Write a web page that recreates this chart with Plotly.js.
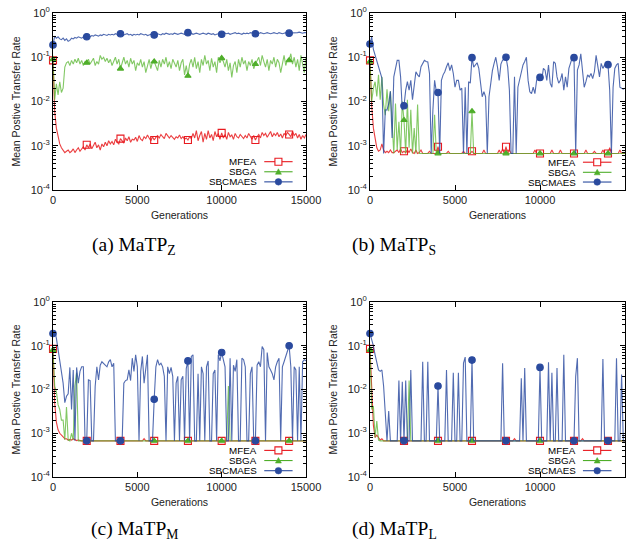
<!DOCTYPE html>
<html><head><meta charset="utf-8">
<script src="https://cdn.plot.ly/plotly-3.0.1.min.js"></script>
<style>body{margin:0;background:#fff}#c{width:640px;height:546px}</style>
</head><body><div id="c"></div>
<script>
const generations = [0,100,200,300,400,500,600,700,800,900,1000,1100,1200,1300,1400,1500,1600,1700,1800,1900,2000,2100,2200,2300,2400,2500,2600,2700,2800,2900,3000,3100,3200,3300,3400,3500,3600,3700,3800,3900,4000,4100,4200,4300,4400,4500,4600,4700,4800,4900,5000,5100,5200,5300,5400,5500,5600,5700,5800,5900,6000,6100,6200,6300,6400,6500,6600,6700,6800,6900,7000,7100,7200,7300,7400,7500,7600,7700,7800,7900,8000,8100,8200,8300,8400,8500,8600,8700,8800,8900,9000,9100,9200,9300,9400,9500,9600,9700,9800,9900,10000,10100,10200,10300,10400,10500,10600,10700,10800,10900,11000,11100,11200,11300,11400,11500,11600,11700,11800,11900,12000,12100,12200,12300,12400,12500,12600,12700,12800,12900,13000,13100,13200,13300,13400,13500,13600,13700,13800,13900,14000,14100,14200,14300,14400,14500,14600,14700,14800,14900,15000];
const markerGenerations = [0,2000,4000,6000,8000,10000,12000,14000];
const seriesNames = ['MFEA','SBGA','SBCMAES'];
const captions = ['(a) MaTP<sub>Z</sub>','(b) MaTP<sub>S</sub>','(c) MaTP<sub>M</sub>','(d) MaTP<sub>L</sub>'];
const xTickVals = [0,5000,10000,15000];
const xTickText = ['0','5000','10000','15000'];
const yTickVals = [1,0.1,0.01,0.001,0.0001];
const yTickText = ['10<sup>0</sup>','10<sup>-1</sup>','10<sup>-2</sup>','10<sup>-3</sup>','10<sup>-4</sup>'];

// Panel (a) MaTP_Z
const mfeaZ = [0.085,0.006,0.0025,0.0015,0.0011,9e-4,8e-4,7e-4,7.5e-4,8e-4,
7e-4,7.5e-4,8.5e-4,7e-4,8e-4,9e-4,7.5e-4,8.5e-4,9.5e-4,8e-4,
1.05e-3,9e-4,1.1e-3,8.5e-4,1e-3,1.2e-3,9e-4,1.05e-3,8e-4,1.1e-3,
9.5e-4,1.2e-3,1e-3,1.3e-3,1.1e-3,1.25e-3,1.05e-3,1.4e-3,1.2e-3,1.1e-3,
1.45e-3,1.3e-3,1.15e-3,1.5e-3,1.3e-3,1.6e-3,1.2e-3,1.4e-3,1.35e-3,1.55e-3,
1.25e-3,1.7e-3,1.4e-3,1.3e-3,1.6e-3,1.45e-3,1.75e-3,1.5e-3,1.3e-3,1.6e-3,
1.35e-3,1.55e-3,1.7e-3,1.5e-3,1.8e-3,1.6e-3,1.45e-3,1.9e-3,1.65e-3,1.5e-3,
1.7e-3,1.55e-3,1.4e-3,1.6e-3,1.5e-3,1.75e-3,1.45e-3,1.6e-3,1.4e-3,1.5e-3,
1.35e-3,1.6e-3,1.45e-3,1.9e-3,1.5e-3,2.2e-3,1.3e-3,1.7e-3,2.1e-3,1.2e-3,
1.9e-3,1.4e-3,2.2e-3,1.5e-3,1.8e-3,1.3e-3,2.1e-3,1.6e-3,1.9e-3,1.4e-3,
1.95e-3,1.5e-3,1.8e-3,1.4e-3,2e-3,1.6e-3,1.75e-3,1.4e-3,1.9e-3,1.6e-3,
1.5e-3,1.8e-3,1.6e-3,1.45e-3,1.7e-3,1.5e-3,1.9e-3,1.6e-3,1.4e-3,1.7e-3,
1.35e-3,1.6e-3,1.8e-3,1.5e-3,2e-3,1.7e-3,1.9e-3,1.55e-3,1.8e-3,2.1e-3,
1.6e-3,1.9e-3,1.7e-3,2e-3,1.6e-3,1.85e-3,1.5e-3,1.9e-3,1.7e-3,2e-3,
1.8e-3,1.6e-3,2.1e-3,1.7e-3,1.9e-3,1.5e-3,1.8e-3,1.4e-3,1.7e-3,1.5e-3,
1.8e-3];
const sbgaZ = [0.09,0.011,0.025,0.014,0.028,0.016,0.02,0.06,0.075,0.08,
0.065,0.085,0.07,0.09,0.075,0.095,0.07,0.085,0.065,0.08,
0.075,0.09,0.07,0.085,0.095,0.065,0.08,0.07,0.11,0.09,
0.1,0.08,0.095,0.075,0.09,0.065,0.085,0.1,0.07,0.09,
0.055,0.08,0.1,0.07,0.085,0.06,0.095,0.07,0.085,0.05,
0.075,0.065,0.09,0.06,0.08,0.045,0.07,0.09,0.055,0.08,
0.08,0.065,0.05,0.085,0.06,0.09,0.07,0.1,0.06,0.08,
0.055,0.09,0.07,0.06,0.085,0.05,0.075,0.09,0.04,0.065,
0.038,0.07,0.09,0.06,0.1,0.055,0.08,0.045,0.09,0.065,
0.11,0.07,0.085,0.05,0.095,0.06,0.08,0.045,0.1,0.075,
0.095,0.08,0.06,0.09,0.05,0.075,0.035,0.065,0.08,0.045,
0.09,0.06,0.1,0.07,0.085,0.05,0.08,0.065,0.09,0.055,
0.07,0.085,0.1,0.065,0.11,0.08,0.06,0.09,0.05,0.085,
0.07,0.1,0.06,0.09,0.075,0.045,0.08,0.11,0.065,0.09,
0.085,0.12,0.07,0.1,0.06,0.09,0.05,0.11,0.07,0.045,
0.1];
const sbcmaesZ = [0.19,0.3,0.27,0.29,0.26,0.25,0.27,0.24,0.26,0.23,
0.24,0.27,0.26,0.28,0.27,0.29,0.28,0.27,0.29,0.28,
0.29,0.3,0.29,0.31,0.3,0.32,0.31,0.3,0.32,0.31,
0.33,0.32,0.31,0.33,0.32,0.33,0.32,0.34,0.33,0.32,
0.34,0.33,0.32,0.33,0.34,0.32,0.33,0.31,0.33,0.32,
0.33,0.32,0.34,0.33,0.32,0.33,0.31,0.32,0.33,0.32,
0.32,0.33,0.34,0.33,0.32,0.34,0.33,0.35,0.34,0.33,
0.34,0.33,0.35,0.34,0.33,0.34,0.35,0.34,0.33,0.35,
0.36,0.34,0.35,0.33,0.34,0.35,0.34,0.33,0.34,0.35,
0.34,0.33,0.35,0.34,0.33,0.34,0.32,0.33,0.34,0.33,
0.33,0.34,0.35,0.34,0.35,0.33,0.34,0.35,0.36,0.34,
0.35,0.34,0.33,0.35,0.34,0.35,0.34,0.36,0.35,0.34,
0.34,0.35,0.34,0.36,0.35,0.34,0.35,0.36,0.35,0.34,
0.35,0.36,0.35,0.34,0.36,0.35,0.34,0.35,0.36,0.35,
0.35,0.36,0.35,0.36,0.35,0.36,0.37,0.36,0.35,0.36,
0.36];

// Panel (b) MaTP_S
const mfeaS = [0.085,0.008,0.0025,0.0013,9e-4,7.5e-4,8e-4,1.1e-3,8e-4,7e-4,
7.5e-4,7e-4,8e-4,7e-4,7e-4,7.5e-4,8e-4,7e-4,8.5e-4,7e-4,
7.5e-4,7e-4,8e-4,7e-4,8.5e-4,7e-4,6.7e-4,8e-4,6.7e-4,7e-4,
8e-4,6.7e-4,6.7e-4,6.7e-4,6.7e-4,7.5e-4,6.7e-4,6.7e-4,6.7e-4,6.7e-4,
9.5e-4,6.7e-4,6.7e-4,6.7e-4,6.7e-4,6.7e-4,7.5e-4,6.7e-4,6.7e-4,6.7e-4,
6.7e-4,6.7e-4,6.7e-4,6.7e-4,6.7e-4,7.5e-4,6.7e-4,6.7e-4,6.7e-4,6.7e-4,
7.5e-4,6.7e-4,6.7e-4,6.7e-4,6.7e-4,6.7e-4,6.7e-4,8e-4,6.7e-4,6.7e-4,
6.7e-4,6.7e-4,6.7e-4,6.7e-4,6.7e-4,6.7e-4,8e-4,6.7e-4,8.5e-4,6.7e-4,
9.5e-4,6.7e-4,8e-4,6.7e-4,6.7e-4,6.7e-4,6.7e-4,6.7e-4,6.7e-4,6.7e-4,
6.7e-4,6.7e-4,6.7e-4,6.7e-4,6.7e-4,6.7e-4,6.7e-4,8e-4,6.7e-4,6.7e-4,
6.7e-4,6.7e-4,6.7e-4,6.7e-4,6.7e-4,6.7e-4,6.7e-4,8e-4,6.7e-4,6.7e-4,
6.7e-4,6.7e-4,8e-4,6.7e-4,6.7e-4,6.7e-4,6.7e-4,6.7e-4,6.7e-4,6.7e-4,
6.7e-4,6.7e-4,6.7e-4,6.7e-4,6.7e-4,6.7e-4,6.7e-4,8e-4,6.7e-4,6.7e-4,
6.7e-4,6.7e-4,7.5e-4,6.7e-4,6.7e-4,6.7e-4,6.7e-4,8e-4,6.7e-4,6.7e-4,
6.7e-4,9e-4,6.7e-4,6.7e-4,6.7e-4,6.7e-4,6.7e-4,8e-4,6.7e-4,6.7e-4,
6.7e-4];
const sbgaS = [0.08,0.01,0.02,0.028,0.013,0.04,0.011,0.036,0.0085,0.0049,
0.019,0.006,0.017,0.0033,6.7e-4,0.009,8e-4,0.0035,6.7e-4,0.01,
0.0038,6.7e-4,0.011,9e-4,0.0065,6.7e-4,0.0025,6.7e-4,0.0085,6.7e-4,
6.7e-4,6.7e-4,6.7e-4,6.7e-4,6.7e-4,6.7e-4,6.7e-4,6.7e-4,0.005,6.7e-4,
6.7e-4,6.7e-4,6.7e-4,6.7e-4,6.7e-4,6.7e-4,6.7e-4,6.7e-4,6.7e-4,6.7e-4,
6.7e-4,6.7e-4,6.7e-4,6.7e-4,6.7e-4,6.7e-4,6.7e-4,6.7e-4,6.7e-4,6.7e-4,
0.006,6.7e-4,6.7e-4,6.7e-4,6.7e-4,6.7e-4,6.7e-4,6.7e-4,6.7e-4,6.7e-4,
6.7e-4,6.7e-4,6.7e-4,6.7e-4,6.7e-4,6.7e-4,6.7e-4,6.7e-4,6.7e-4,6.7e-4,
6.7e-4,6.7e-4,6.7e-4,6.7e-4,6.7e-4,6.7e-4,6.7e-4,6.7e-4,6.7e-4,6.7e-4,
6.7e-4,6.7e-4,6.7e-4,6.7e-4,6.7e-4,6.7e-4,6.7e-4,6.7e-4,6.7e-4,6.7e-4,
6.7e-4,6.7e-4,6.7e-4,6.7e-4,6.7e-4,6.7e-4,6.7e-4,6.7e-4,6.7e-4,6.7e-4,
6.7e-4,6.7e-4,6.7e-4,6.7e-4,6.7e-4,6.7e-4,6.7e-4,6.7e-4,6.7e-4,6.7e-4,
6.7e-4,6.7e-4,6.7e-4,6.7e-4,6.7e-4,6.7e-4,6.7e-4,6.7e-4,6.7e-4,6.7e-4,
6.7e-4,6.7e-4,6.7e-4,6.7e-4,6.7e-4,6.7e-4,6.7e-4,6.7e-4,6.7e-4,6.7e-4,
6.7e-4,6.7e-4,6.7e-4,6.7e-4,6.7e-4,6.7e-4,6.7e-4,6.7e-4,6.7e-4,6.7e-4,
6.7e-4];
const sbcmaesS = [0.2,0.29,0.15,0.11,0.075,0.055,0.042,0.034,6.7e-4,0.0065,
0.0064,0.009,0.017,0.0015,0.036,0.06,0.085,0.085,0.036,0.0064,
0.008,0.018,0.028,0.018,0.03,0.011,0.021,0.047,0.04,0.036,
0.061,0.075,0.085,0.08,0.078,0.043,6.7e-4,0.0064,0.03,0.017,
0.016,6.7e-4,0.03,0.04,0.047,0.061,0.075,0.05,0.067,0.043,
0.021,0.03,0.03,0.018,0.02,6.7e-4,0.021,6.7e-4,0.028,0.026,
0.098,0.06,0.067,0.075,0.056,0.03,0.0128,0.0166,0.0128,6.7e-4,
0.0128,0.025,0.05,0.073,0.1,0.06,0.03,0.07,0.086,0.09,
0.1,0.06,0.018,6.7e-4,6.7e-4,0.036,6.7e-4,0.021,0.03,0.05,
0.067,0.08,0.1,0.03,0.0166,0.015,0.021,0.015,0.03,0.035,
0.035,0.03,0.056,0.051,0.03,0.067,0.026,0.021,0.079,0.073,
0.036,0.026,0.03,0.043,0.018,0.036,0.021,0.056,0.073,0.098,
0.098,6.7e-4,0.051,0.067,0.12,0.04,0.021,0.028,0.04,0.036,
0.043,0.033,0.047,0.11,0.061,0.036,0.073,0.056,0.067,0.07,
0.068,0.018,6.7e-4,0.021,0.056,0.067,0.073,0.021,0.02,0.019,
0.02];

// Panel (c) MaTP_M
const mfeaM = [0.085,0.005,0.0018,0.0012,1e-3,9e-4,8e-4,7.5e-4,7.5e-4,7e-4,
7.2e-4,7e-4,7.5e-4,7e-4,6.8e-4,7e-4,6.7e-4,6.7e-4,6.7e-4,6.7e-4,
6.7e-4,6.7e-4,6.7e-4,6.7e-4,6.7e-4,6.7e-4,6.7e-4,6.7e-4,6.7e-4,6.7e-4,
6.7e-4,6.7e-4,6.7e-4,6.7e-4,6.7e-4,6.7e-4,6.7e-4,6.7e-4,6.7e-4,6.7e-4,
6.7e-4,6.7e-4,6.7e-4,6.7e-4,6.7e-4,6.7e-4,6.7e-4,6.7e-4,6.7e-4,6.7e-4,
6.7e-4,6.7e-4,6.7e-4,6.7e-4,7.5e-4,6.7e-4,6.7e-4,6.7e-4,6.7e-4,6.7e-4,
6.7e-4,6.7e-4,6.7e-4,6.7e-4,6.7e-4,6.7e-4,6.7e-4,6.7e-4,6.7e-4,6.7e-4,
6.7e-4,6.7e-4,6.7e-4,6.7e-4,6.7e-4,6.7e-4,6.7e-4,6.7e-4,6.7e-4,6.7e-4,
6.7e-4,6.7e-4,6.7e-4,6.7e-4,6.7e-4,6.7e-4,6.7e-4,6.7e-4,6.7e-4,6.7e-4,
6.7e-4,6.7e-4,6.7e-4,6.7e-4,6.7e-4,6.7e-4,6.7e-4,6.7e-4,6.7e-4,6.7e-4,
6.7e-4,6.7e-4,6.7e-4,6.7e-4,6.7e-4,6.7e-4,6.7e-4,6.7e-4,6.7e-4,6.7e-4,
6.7e-4,6.7e-4,6.7e-4,6.7e-4,6.7e-4,6.7e-4,6.7e-4,6.7e-4,6.7e-4,6.7e-4,
6.7e-4,6.7e-4,6.7e-4,6.7e-4,6.7e-4,6.7e-4,6.7e-4,6.7e-4,6.7e-4,6.7e-4,
6.7e-4,6.7e-4,6.7e-4,6.7e-4,6.7e-4,6.7e-4,6.7e-4,6.7e-4,6.7e-4,6.7e-4,
6.7e-4,6.7e-4,6.7e-4,6.7e-4,6.7e-4,6.7e-4,6.7e-4,6.7e-4,6.7e-4,6.7e-4,
6.7e-4];
const sbgaM = [0.08,0.012,0.009,0.0045,0.0035,0.002,0.002,7e-4,0.004,7e-4,
6.7e-4,0.001,7e-4,0.012,0.024,6.7e-4,6.7e-4,6.7e-4,6.7e-4,6.7e-4,
6.7e-4,6.7e-4,6.7e-4,6.7e-4,6.7e-4,6.7e-4,6.7e-4,6.7e-4,6.7e-4,6.7e-4,
6.7e-4,6.7e-4,6.7e-4,6.7e-4,6.7e-4,6.7e-4,6.7e-4,6.7e-4,6.7e-4,6.7e-4,
6.7e-4,6.7e-4,6.7e-4,6.7e-4,6.7e-4,6.7e-4,6.7e-4,6.7e-4,6.7e-4,6.7e-4,
6.7e-4,6.7e-4,6.7e-4,6.7e-4,6.7e-4,6.7e-4,6.7e-4,6.7e-4,6.7e-4,6.7e-4,
6.7e-4,6.7e-4,6.7e-4,6.7e-4,6.7e-4,6.7e-4,6.7e-4,6.7e-4,6.7e-4,6.7e-4,
6.7e-4,6.7e-4,6.7e-4,6.7e-4,6.7e-4,6.7e-4,6.7e-4,6.7e-4,6.7e-4,6.7e-4,
6.7e-4,6.7e-4,6.7e-4,6.7e-4,6.7e-4,6.7e-4,6.7e-4,6.7e-4,6.7e-4,6.7e-4,
6.7e-4,6.7e-4,6.7e-4,6.7e-4,6.7e-4,6.7e-4,6.7e-4,6.7e-4,6.7e-4,6.7e-4,
6.7e-4,6.7e-4,6.7e-4,6.7e-4,0.012,6.7e-4,6.7e-4,6.7e-4,6.7e-4,6.7e-4,
6.7e-4,6.7e-4,6.7e-4,6.7e-4,6.7e-4,6.7e-4,6.7e-4,6.7e-4,6.7e-4,6.7e-4,
6.7e-4,6.7e-4,6.7e-4,6.7e-4,6.7e-4,6.7e-4,6.7e-4,6.7e-4,6.7e-4,6.7e-4,
6.7e-4,6.7e-4,6.7e-4,6.7e-4,6.7e-4,6.7e-4,6.7e-4,6.7e-4,6.7e-4,6.7e-4,
6.7e-4,6.7e-4,6.7e-4,6.7e-4,6.7e-4,6.7e-4,6.7e-4,6.7e-4,6.7e-4,6.7e-4,
6.7e-4];
const sbcmaesM = [0.19,0.22,0.15,0.08,0.045,0.028,0.014,0.005,0.007,0.008,
0.032,0.0035,0.028,6.7e-4,0.032,0.014,0.026,0.033,0.033,6.7e-4,
6.7e-4,0.0166,0.016,6.7e-4,6.7e-4,0.0117,0.033,0.0166,0.036,0.043,
0.04,0.036,0.033,0.043,0.048,0.033,0.04,6.7e-4,6.7e-4,6.7e-4,
6.7e-4,6.7e-4,0.014,0.016,0.0166,0.028,0.016,0.052,0.026,0.062,
0.033,6.7e-4,0.026,0.057,0.014,0.028,0.062,6.7e-4,6.7e-4,6.7e-4,
0.006,0.033,0.048,0.036,0.04,0.033,0.02,6.7e-4,0.033,0.023,
0.032,0.02,6.7e-4,0.014,0.02,6.7e-4,0.0166,0.02,6.7e-4,0.03,
0.045,6.7e-4,0.057,0.062,6.7e-4,6.7e-4,0.023,6.7e-4,0.033,0.023,
6.7e-4,0.033,0.045,6.7e-4,6.7e-4,0.023,0.028,6.7e-4,0.062,0.045,
0.07,0.045,0.033,6.7e-4,6.7e-4,0.052,6.7e-4,0.036,0.026,0.048,
6.7e-4,6.7e-4,0.052,0.048,0.033,6.7e-4,6.7e-4,0.023,0.033,6.7e-4,
6.7e-4,0.036,0.043,0.033,0.096,0.081,6.7e-4,0.07,0.033,0.028,
0.023,0.0166,0.033,0.043,0.052,6.7e-4,0.033,0.043,0.057,0.07,
0.1,0.033,6.7e-4,0.033,0.028,6.7e-4,0.033,6.7e-4,0.043,0.048,
0.045];

// Panel (d) MaTP_L
const mfeaL = [0.085,0.01,0.0015,8e-4,9e-4,8e-4,7e-4,7.5e-4,6.7e-4,6.7e-4,
6.7e-4,6.7e-4,6.7e-4,6.7e-4,6.7e-4,6.7e-4,6.7e-4,6.7e-4,6.7e-4,6.7e-4,
6.7e-4,6.7e-4,6.7e-4,6.7e-4,6.7e-4,6.7e-4,6.7e-4,6.7e-4,6.7e-4,6.7e-4,
6.7e-4,6.7e-4,6.7e-4,6.7e-4,6.7e-4,6.7e-4,6.7e-4,6.7e-4,6.7e-4,6.7e-4,
6.7e-4,6.7e-4,6.7e-4,6.7e-4,6.7e-4,6.7e-4,6.7e-4,6.7e-4,6.7e-4,6.7e-4,
6.7e-4,6.7e-4,6.7e-4,6.7e-4,6.7e-4,6.7e-4,6.7e-4,6.7e-4,6.7e-4,6.7e-4,
6.7e-4,6.7e-4,6.7e-4,6.7e-4,6.7e-4,6.7e-4,6.7e-4,6.7e-4,6.7e-4,6.7e-4,
6.7e-4,6.7e-4,6.7e-4,6.7e-4,6.7e-4,6.7e-4,6.7e-4,6.7e-4,6.7e-4,6.7e-4,
6.7e-4,6.7e-4,6.7e-4,6.7e-4,6.7e-4,7.5e-4,6.7e-4,6.7e-4,6.7e-4,6.7e-4,
6.7e-4,6.7e-4,6.7e-4,6.7e-4,6.7e-4,6.7e-4,6.7e-4,6.7e-4,6.7e-4,6.7e-4,
6.7e-4,6.7e-4,6.7e-4,6.7e-4,6.7e-4,6.7e-4,6.7e-4,6.7e-4,6.7e-4,6.7e-4,
6.7e-4,6.7e-4,6.7e-4,6.7e-4,6.7e-4,6.7e-4,6.7e-4,6.7e-4,6.7e-4,6.7e-4,
6.7e-4,6.7e-4,6.7e-4,6.7e-4,6.7e-4,7.5e-4,6.7e-4,6.7e-4,6.7e-4,6.7e-4,
6.7e-4,6.7e-4,6.7e-4,6.7e-4,6.7e-4,6.7e-4,6.7e-4,6.7e-4,6.7e-4,6.7e-4,
6.7e-4,7.5e-4,6.7e-4,6.7e-4,6.7e-4,6.7e-4,6.7e-4,6.7e-4,6.7e-4,6.7e-4,
6.7e-4];
const sbgaL = [0.08,0.0035,0.0042,8e-4,0.0019,7e-4,6.7e-4,6.7e-4,6.7e-4,6.7e-4,
6.7e-4,6.7e-4,6.7e-4,6.7e-4,6.7e-4,6.7e-4,6.7e-4,6.7e-4,6.7e-4,6.7e-4,
6.7e-4,6.7e-4,6.7e-4,0.016,6.7e-4,6.7e-4,6.7e-4,6.7e-4,6.7e-4,6.7e-4,
6.7e-4,6.7e-4,6.7e-4,6.7e-4,6.7e-4,6.7e-4,6.7e-4,6.7e-4,6.7e-4,6.7e-4,
6.7e-4,6.7e-4,6.7e-4,6.7e-4,6.7e-4,6.7e-4,6.7e-4,6.7e-4,6.7e-4,6.7e-4,
6.7e-4,6.7e-4,6.7e-4,6.7e-4,6.7e-4,6.7e-4,6.7e-4,6.7e-4,6.7e-4,6.7e-4,
6.7e-4,6.7e-4,6.7e-4,6.7e-4,6.7e-4,6.7e-4,6.7e-4,6.7e-4,6.7e-4,6.7e-4,
6.7e-4,6.7e-4,6.7e-4,6.7e-4,6.7e-4,6.7e-4,6.7e-4,6.7e-4,6.7e-4,6.7e-4,
6.7e-4,6.7e-4,6.7e-4,6.7e-4,6.7e-4,6.7e-4,6.7e-4,6.7e-4,6.7e-4,6.7e-4,
6.7e-4,6.7e-4,6.7e-4,6.7e-4,6.7e-4,6.7e-4,6.7e-4,6.7e-4,6.7e-4,6.7e-4,
6.7e-4,6.7e-4,6.7e-4,6.7e-4,6.7e-4,6.7e-4,6.7e-4,6.7e-4,6.7e-4,6.7e-4,
6.7e-4,6.7e-4,6.7e-4,6.7e-4,6.7e-4,6.7e-4,6.7e-4,6.7e-4,6.7e-4,6.7e-4,
6.7e-4,6.7e-4,6.7e-4,6.7e-4,6.7e-4,6.7e-4,6.7e-4,6.7e-4,6.7e-4,6.7e-4,
6.7e-4,6.7e-4,6.7e-4,6.7e-4,6.7e-4,6.7e-4,6.7e-4,6.7e-4,6.7e-4,6.7e-4,
6.7e-4,6.7e-4,6.7e-4,6.7e-4,6.7e-4,6.7e-4,6.7e-4,6.7e-4,6.7e-4,6.7e-4,
6.7e-4];
const sbcmaesL = [0.19,0.14,0.1,0.062,0.04,0.028,0.026,0.028,0.012,0.0035,
6.7e-4,0.0032,6.7e-4,6.7e-4,6.7e-4,6.7e-4,6.7e-4,0.016,6.7e-4,0.015,
6.7e-4,0.016,6.7e-4,6.7e-4,0.028,6.7e-4,6.7e-4,6.7e-4,6.7e-4,6.7e-4,
6.7e-4,0.043,6.7e-4,6.7e-4,0.043,6.7e-4,6.7e-4,6.7e-4,6.7e-4,6.7e-4,
0.012,6.7e-4,6.7e-4,6.7e-4,6.7e-4,0.028,6.7e-4,6.7e-4,6.7e-4,0.024,
6.7e-4,6.7e-4,0.024,6.7e-4,6.7e-4,0.04,0.055,6.7e-4,6.7e-4,6.7e-4,
0.047,6.7e-4,6.7e-4,6.7e-4,6.7e-4,6.7e-4,6.7e-4,6.7e-4,6.7e-4,6.7e-4,
6.7e-4,6.7e-4,6.7e-4,6.7e-4,6.7e-4,6.7e-4,6.7e-4,6.7e-4,0.04,6.7e-4,
6.7e-4,6.7e-4,6.7e-4,6.7e-4,6.7e-4,6.7e-4,6.7e-4,6.7e-4,6.7e-4,0.018,
6.7e-4,0.031,6.7e-4,6.7e-4,6.7e-4,6.7e-4,6.7e-4,6.7e-4,6.7e-4,6.7e-4,
0.032,6.7e-4,6.7e-4,6.7e-4,6.7e-4,0.042,6.7e-4,0.024,6.7e-4,6.7e-4,
0.031,6.7e-4,6.7e-4,6.7e-4,0.062,6.7e-4,6.7e-4,6.7e-4,6.7e-4,6.7e-4,
6.7e-4,0.02,0.052,6.7e-4,6.7e-4,6.7e-4,6.7e-4,6.7e-4,6.7e-4,6.7e-4,
6.7e-4,6.7e-4,6.7e-4,6.7e-4,6.7e-4,6.7e-4,6.7e-4,0.05,6.7e-4,6.7e-4,
6.7e-4,6.7e-4,6.7e-4,6.7e-4,6.7e-4,0.052,6.7e-4,6.7e-4,0.022,6.7e-4,
6.7e-4];

const panels = [
  {series:[mfeaZ,sbgaZ,sbcmaesZ], xa:'x',  ya:'y'},
  {series:[mfeaS,sbgaS,sbcmaesS], xa:'x2', ya:'y2'},
  {series:[mfeaM,sbgaM,sbcmaesM], xa:'x3', ya:'y3'},
  {series:[mfeaL,sbgaL,sbcmaesL], xa:'x4', ya:'y4'}
];

const lineColors = ['rgba(232,28,30,0.85)','rgba(88,182,48,0.75)','rgba(38,70,158,0.8)'];
const markColors = ['#e8191f','#4fae2a','#2a4a9e'];
const symbols = ['square-open','triangle-up','circle'];
const msizes = [7,5.5,6.5];

const traces = [];
panels.forEach(p => {
  p.series.forEach((ys, k) => {
    traces.push({type:'scatter', mode:'lines', x:generations, y:ys, xaxis:p.xa, yaxis:p.ya,
      line:{color:lineColors[k], width:1.1}, showlegend:false, hoverinfo:'skip'});
    const mx = [], my = [];
    generations.forEach((g,i) => { if (markerGenerations.includes(g)) { mx.push(g); my.push(ys[i]); } });
    traces.push({type:'scatter', mode:'markers', x:mx, y:my, xaxis:p.xa, yaxis:p.ya, cliponaxis:false,
      marker:{symbol:symbols[k], size:msizes[k], color:markColors[k], line:{color:markColors[k], width:1.1}},
      showlegend:false, hoverinfo:'skip'});
  });
});

const font = 'Liberation Sans, Arial, Helvetica, sans-serif';
function xAxis(domain, anchor){
  return {domain, anchor, range:[0,15000], tickmode:'array', tickvals:xTickVals, ticktext:xTickText,
    ticks:'inside', ticklen:5, tickcolor:'#000', showline:true, linecolor:'#000', linewidth:1,
    mirror:'allticks', showgrid:false, zeroline:false, automargin:false,
    tickfont:{family:font, size:11, color:'#222'},
    title:{text:'Generations', font:{family:font, size:10.5, color:'#222'}, standoff:6}};
}
function yAxis(domain, anchor){
  return {domain, anchor, type:'log', range:[-4,0], tickmode:'array', tickvals:yTickVals, ticktext:yTickText,
    ticks:'inside', ticklen:5, tickcolor:'#000', showline:true, linecolor:'#000', linewidth:1,
    minor:{ticks:'inside', ticklen:3, tickcolor:'#000', dtick:'D1', showgrid:false},
    mirror:'allticks', showgrid:false, zeroline:false, automargin:false,
    tickfont:{family:font, size:11, color:'#222'},
    title:{text:'Mean Postive Transfer Rate', font:{family:font, size:10.5, color:'#222'}, standoff:8}};
}
const W = 640, H = 546;
const xdA = [53/W, 306/W], xdB = [370/W, 625/W];
const ydT = [1-190/H, 1-13/H], ydB = [1-477/H, 1-302/H];

// legend keys drawn per panel (gnuplot style: text, then sample)
const shapes = [], annotations = [];
const legendRows = [[0.16,0.103,0.046],[0.157,0.1,0.045],[0.152,0.094,0.036],[0.152,0.094,0.036]];
const axisIds = [['x','y'],['x2','y2'],['x3','y3'],['x4','y4']];
axisIds.forEach(([xa,ya], pi) => {
  const xr = xa+' domain', yr = ya+' domain';
  seriesNames.forEach((nm,k) => {
    const yy = legendRows[pi][k];
    annotations.push({xref:xr, yref:yr, x:0.81, y:yy, xanchor:'right', yanchor:'middle', showarrow:false,
      borderpad:0, text:nm, font:{family:font, size:9.8, color:'#000'}});
    shapes.push({type:'line', xref:xr, yref:yr, x0:0.835, x1:0.947, y0:yy, y1:yy,
      line:{color:markColors[k], width:1.1}});
    if (k===0) shapes.push({type:'rect', xref:xr, yref:yr, xsizemode:'pixel', ysizemode:'pixel',
      xanchor:0.891, yanchor:yy, x0:-3.5, x1:3.5, y0:-3.5, y1:3.5, fillcolor:'#fff', line:{color:markColors[k], width:1.1}});
    if (k===1) shapes.push({type:'path', xref:xr, yref:yr, xsizemode:'pixel', ysizemode:'pixel',
      xanchor:0.891, yanchor:yy, path:'M-3,-2.5 L3,-2.5 L0,3 Z', fillcolor:markColors[k], line:{color:markColors[k], width:0.5}});
    if (k===2) shapes.push({type:'circle', xref:xr, yref:yr, xsizemode:'pixel', ysizemode:'pixel',
      xanchor:0.891, yanchor:yy, x0:-3.3, x1:3.3, y0:-3.3, y1:3.3, fillcolor:markColors[k], line:{color:markColors[k], width:0.5}});
  });
});
const capPos = [[134,246],[394,246],[134,530],[394,530]];
captions.forEach((c,i) => annotations.push({xref:'paper', yref:'paper', x:capPos[i][0]/W, y:1-capPos[i][1]/H,
  xanchor:'center', yanchor:'middle', showarrow:false, borderpad:0, text:c,
  font:{family:'Liberation Serif, Times New Roman, serif', size:19.5, color:'#000'}}));

const layout = {
  width:W, height:H, margin:{l:0,r:0,t:0,b:0}, paper_bgcolor:'#fff', plot_bgcolor:'#fff', showlegend:false,
  xaxis:xAxis(xdA,'y'), yaxis:yAxis(ydT,'x'),
  xaxis2:xAxis(xdB,'y2'), yaxis2:yAxis(ydT,'x2'),
  xaxis3:xAxis(xdA,'y3'), yaxis3:yAxis(ydB,'x3'),
  xaxis4:xAxis(xdB,'y4'), yaxis4:yAxis(ydB,'x4'),
  shapes, annotations
};
Plotly.newPlot('c', traces, layout, {staticPlot:true, displayModeBar:false});
</script></body></html>
